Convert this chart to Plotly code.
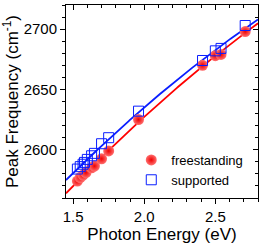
import numpy as np
import plotly.graph_objects as go

# Data
energy_free = [1.53, 1.55, 1.57, 1.59, 1.63, 1.65, 1.70, 1.75, 1.96, 2.41, 2.50, 2.54, 2.71]
freq_free = [2574, 2577, 2579, 2581, 2585, 2586.5, 2592.5, 2599, 2625, 2670, 2678, 2679, 2698]

energy_sup = [1.53, 1.55, 1.57, 1.58, 1.60, 1.63, 1.65, 1.70, 1.75, 1.96, 2.41, 2.50, 2.54, 2.71]
freq_sup = [2584, 2586, 2588, 2589.5, 2592, 2595, 2597, 2605, 2610, 2632, 2674, 2682, 2684, 2703]

x_range = [1.45, 2.8]
y_range = [2560, 2720]
x_ticks = [1.5, 2.0, 2.5]
x_ticklabels = ["1.5", "2.0", "2.5"]
y_ticks = [2600, 2650, 2700]

RED = "#ff0000"
BLUE = "#0a1eff"

xf = np.linspace(x_range[0], x_range[1], 200)
fit_free = np.polyval(np.polyfit(energy_free, freq_free, 2), xf)
fit_sup = np.polyval(np.polyfit(energy_sup, freq_sup, 2), xf)

fig = go.Figure()
fig.add_trace(go.Scatter(x=xf, y=fit_free, mode="lines", line=dict(color=RED, width=1.8),
                         showlegend=False, hoverinfo="skip"))
fig.add_trace(go.Scatter(x=xf, y=fit_sup, mode="lines", line=dict(color=BLUE, width=1.8),
                         showlegend=False, hoverinfo="skip"))
fig.add_trace(go.Scatter(x=energy_free, y=freq_free, mode="markers", name="freestanding",
                         marker=dict(symbol="circle", size=11, color="#ff7070",
                                     gradient=dict(type="radial", color="#f00000"),
                                     line=dict(width=0))))
fig.add_trace(go.Scatter(x=energy_sup, y=freq_sup, mode="markers", name="supported",
                         marker=dict(symbol="square-open", size=10, color=BLUE,
                                     line=dict(width=1, color=BLUE))))
# helper trace for top/right inside-tick axes
fig.add_trace(go.Scatter(x=[None], y=[None], xaxis="x2", yaxis="y2", showlegend=False,
                         hoverinfo="skip"))

font = "Liberation Sans, Arial, Helvetica, sans-serif"
common = dict(showline=True, linecolor="black", linewidth=1, showgrid=False, zeroline=False,
              ticklen=5, tickwidth=1, tickcolor="black", automargin=False)

fig.update_layout(
    width=265, height=247,
    margin=dict(l=66, r=7, t=5, b=49),
    paper_bgcolor="white", plot_bgcolor="white",
    font=dict(family=font, size=15, color="black"),
    xaxis=dict(range=x_range, tickvals=x_ticks, ticktext=x_ticklabels, ticks="outside",
               title=dict(text="Photon Energy (eV)", font=dict(size=17), standoff=0),
               minor=dict(dtick=0.1, ticks="outside", ticklen=3, tickcolor="black"),
               **common),
    yaxis=dict(range=y_range, tickvals=y_ticks, ticks="outside",
               title=dict(text="Peak Frequency (cm<sup>-1</sup>)", font=dict(size=17), standoff=2),
               minor=dict(dtick=10, ticks="outside", ticklen=3, tickcolor="black"),
               **common),
    xaxis2=dict(range=x_range, overlaying="x", side="top", tickvals=x_ticks, ticks="inside",
                showticklabels=False, anchor="y",
                minor=dict(dtick=0.1, ticks="inside", ticklen=3, tickcolor="black"), **common),
    yaxis2=dict(range=y_range, overlaying="y", side="right", tickvals=y_ticks, ticks="inside",
                showticklabels=False, anchor="x",
                minor=dict(dtick=10, ticks="inside", ticklen=3, tickcolor="black"), **common),
    legend=dict(x=0.34, y=0.275, xanchor="left", yanchor="top", bgcolor="rgba(0,0,0,0)",
                font=dict(size=13), tracegroupgap=0),
    showlegend=True,
)

fig.write_html("out.html", config={"displayModeBar": False},
               post_script="document.body.style.margin='0';document.body.style.overflow='hidden';")
